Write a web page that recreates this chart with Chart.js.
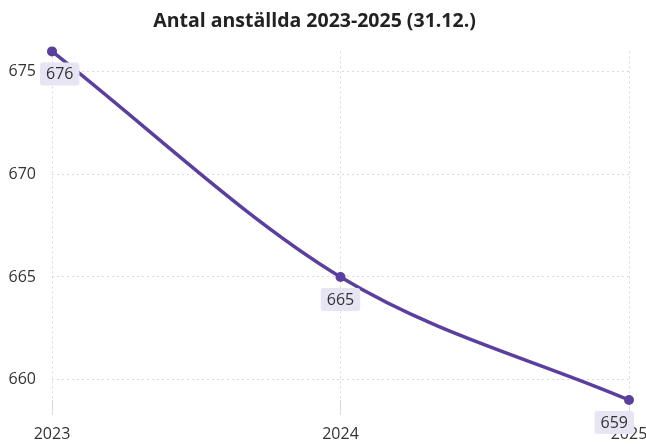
<!DOCTYPE html>
<html>
<head>
<meta charset="utf-8">
<script src="https://cdn.jsdelivr.net/npm/chart.js@4"></script>
<style>
  html, body { margin: 0; padding: 0; background: #fff; }
  #wrap { width: 646px; height: 444px; }
</style>
</head>
<body>
<div id="wrap"><canvas id="staffChart"></canvas></div>
<script>
// Data
const years = ['2023', '2024', '2025'];
const employees = [676, 665, 659];
const yTicks = [660, 665, 670, 675];

// Draws value boxes under each point (no datalabels plugin available offline)
const valueBoxes = {
    id: 'valueBoxes',
    afterDatasetsDraw(chart) {
        const ctx = chart.ctx;
        const area = chart.chartArea;
        const meta = chart.getDatasetMeta(0);
        ctx.save();
        ctx.font = '16px "Open Sans"';
        ctx.textAlign = 'center';
        ctx.textBaseline = 'middle';
        meta.data.forEach((pt, i) => {
            const text = String(employees[i]);
            const w = ctx.measureText(text).width + 12;
            const h = 23;
            let left = pt.x - w / 2;
            if (left < area.left - 12) left = area.left - 12;
            if (left + w > area.right + 5) left = area.right + 5 - w;
            const top = pt.y + 11;
            ctx.fillStyle = '#e7e5f3';
            ctx.beginPath();
            ctx.roundRect(left, top, w, h, 3);
            ctx.fill();
            ctx.fillStyle = '#333';
            ctx.fillText(text, left + w / 2, top + h / 2 + 1);
        });
        ctx.restore();
    }
};

const ctx = document.getElementById('staffChart').getContext('2d');
const staffChart = new Chart(ctx, {
    type: 'line',
    data: {
        labels: years,
        datasets: [{
            label: 'Antal anställda',
            data: employees,
            borderColor: '#5b3f9e',
            backgroundColor: '#5b3f9e',
            borderWidth: 3.5,
            pointRadius: 5,
            pointBackgroundColor: '#5b3f9e',
            pointBorderWidth: 0,
            cubicInterpolationMode: 'monotone',
            clip: false,
            fill: false
        }]
    },
    options: {
        responsive: true,
        maintainAspectRatio: false,
        animation: false,
        layout: { padding: { top: 0, right: 17, bottom: 0, left: 0 } },
        plugins: {
            legend: { display: false },
            tooltip: { enabled: false },
            title: {
                display: true,
                text: 'Antal anställda 2023-2025 (31.12.)',
                color: '#222',
                font: { family: 'Open Sans', size: 19.5, weight: 'bold' },
                padding: { top: 10, bottom: 18 }
            }
        },
        scales: {
            x: {
                offset: false,
                grid: {
                    color: '#dadada',
                    tickColor: '#dadada',
                    tickLength: 15,
                    drawTicks: true
                },
                border: { display: false, dash: [2, 3] },
                ticks: {
                    color: '#333',
                    padding: 10,
                    maxRotation: 0,
                    font: { family: 'Open Sans', size: 16 }
                },
                afterFit(scale) {
                    scale.height = 44;
                    scale.paddingRight = 0;
                }
            },
            y: {
                min: 659,
                max: 676,
                grid: { color: '#dadada', drawTicks: false },
                border: { display: false, dash: [2, 3] },
                ticks: {
                    color: '#333',
                    padding: 16,
                    font: { family: 'Open Sans', size: 16 }
                },
                afterBuildTicks(scale) {
                    scale.ticks = yTicks.map(v => ({ value: v }));
                },
                afterFit(scale) { scale.width = 52; }
            }
        }
    },
    plugins: [valueBoxes]
});
</script>
</body>
</html>
